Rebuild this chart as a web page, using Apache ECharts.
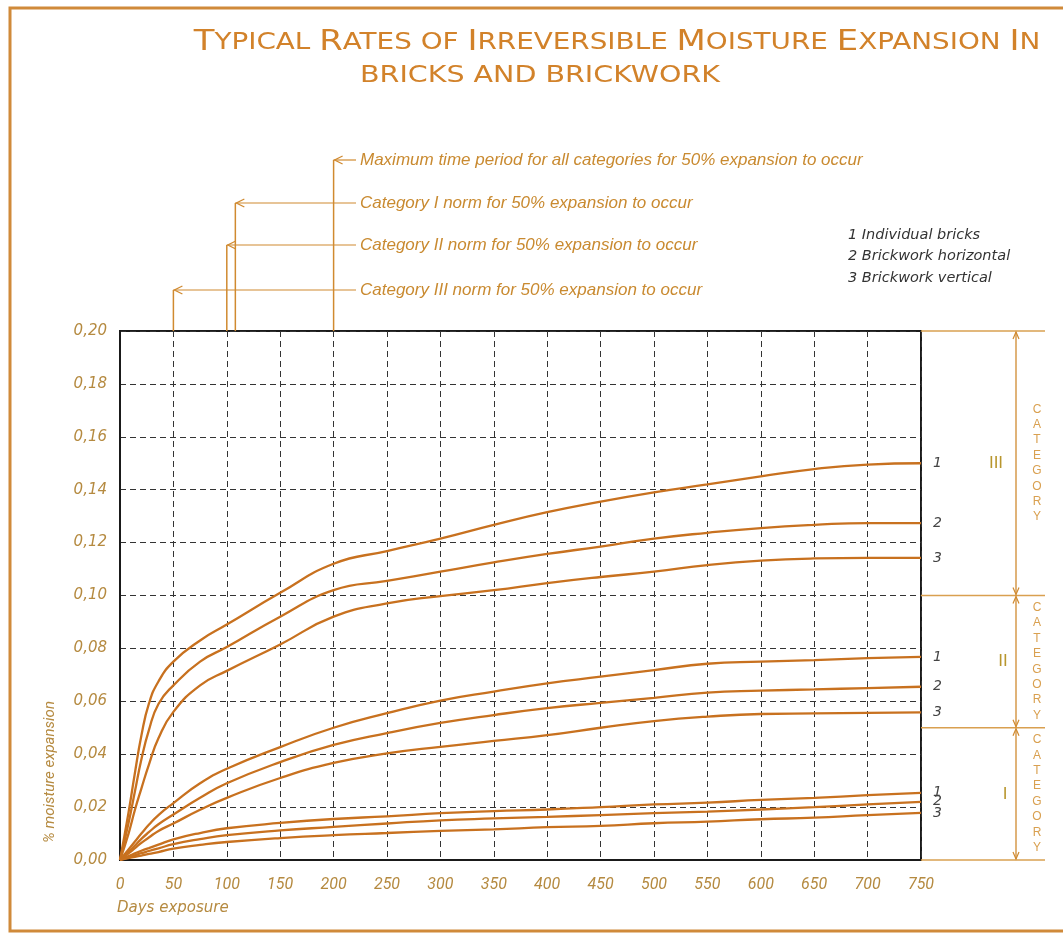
<!DOCTYPE html>
<html>
<head>
<meta charset="utf-8">
<script src="https://cdn.jsdelivr.net/npm/echarts@6/dist/echarts.min.js"></script>
<style>
html,body{margin:0;padding:0;background:#fff;}
#c{width:1063px;height:935px;}
</style>
</head>
<body>
<div id="c"></div>
<script>
// ---------------- DATA ----------------
const days = [0, 8, 14, 20, 27, 36, 50, 75, 100, 150, 200, 250, 300, 350, 400, 450, 500, 550, 600, 650, 700, 750];

const cat3_1 = [0, 0.018, 0.033, 0.047, 0.059, 0.0675, 0.075, 0.083, 0.089, 0.101, 0.112, 0.1168, 0.1215, 0.1267, 0.1315, 0.1355, 0.139, 0.142, 0.145, 0.1478, 0.1495, 0.150];
const cat3_2 = [0, 0.014, 0.026, 0.038, 0.049, 0.059, 0.066, 0.075, 0.0805, 0.092, 0.102, 0.1055, 0.109, 0.1125, 0.1157, 0.1185, 0.1215, 0.1237, 0.1255, 0.1267, 0.1274, 0.1274];
const cat3_3 = [0, 0.010, 0.019, 0.027, 0.036, 0.046, 0.056, 0.066, 0.0715, 0.0815, 0.092, 0.097, 0.0998, 0.102, 0.1047, 0.107, 0.109, 0.1115, 0.1132, 0.114, 0.1142, 0.1142];

const cat2_1 = [0, 0.004, 0.007, 0.010, 0.0133, 0.017, 0.0215, 0.029, 0.0345, 0.0427, 0.050, 0.0555, 0.0603, 0.0637, 0.0668, 0.0693, 0.0718, 0.0742, 0.075, 0.0756, 0.0763, 0.0768];
const cat2_2 = [0, 0.003, 0.0055, 0.008, 0.0105, 0.0135, 0.0172, 0.0235, 0.029, 0.037, 0.0435, 0.048, 0.0518, 0.0548, 0.0574, 0.0594, 0.0613, 0.0633, 0.064, 0.0645, 0.065, 0.0655];
const cat2_3 = [0, 0.0025, 0.0045, 0.0065, 0.0085, 0.011, 0.0138, 0.019, 0.0235, 0.031, 0.0367, 0.0403, 0.0428, 0.045, 0.0472, 0.050, 0.0525, 0.0542, 0.0552, 0.0554, 0.0556, 0.0558];

const cat1_1 = [0, 0.0015, 0.0025, 0.0035, 0.0045, 0.0058, 0.0078, 0.0102, 0.012, 0.014, 0.0155, 0.0165, 0.0177, 0.0185, 0.0191, 0.020, 0.021, 0.0217, 0.0227, 0.0235, 0.0245, 0.0254];
const cat1_2 = [0, 0.001, 0.0018, 0.0026, 0.0034, 0.0044, 0.006, 0.0079, 0.0094, 0.0112, 0.0125, 0.0138, 0.015, 0.0157, 0.0163, 0.017, 0.0177, 0.0183, 0.0191, 0.020, 0.021, 0.022];
const cat1_3 = [0, 0.0007, 0.0012, 0.0017, 0.0023, 0.003, 0.0043, 0.0057, 0.0068, 0.0083, 0.0094, 0.0102, 0.011, 0.0116, 0.0124, 0.0129, 0.0139, 0.0145, 0.0154, 0.016, 0.017, 0.0178];

const seriesValues = [cat3_1, cat3_2, cat3_3, cat2_1, cat2_2, cat2_3, cat1_1, cat1_2, cat1_3];
const seriesLabels = ['1', '2', '3', '1', '2', '3', '1', '2', '3'];

const categoryBounds = [0, 0.05, 0.10, 0.20];      // I: 0-0.05, II: 0.05-0.10, III: 0.10-0.20
const categoryNames = ['I', 'II', 'III'];

const normDays = [200, 108, 100, 50];
const normTexts = [
  'Maximum time period for all categories for 50% expansion to occur',
  'Category I norm for 50% expansion to occur',
  'Category II norm for 50% expansion to occur',
  'Category III norm for 50% expansion to occur'
];
const legendTexts = ['1 Individual bricks', '2 Brickwork horizontal', '3 Brickwork vertical'];

const titleLines = ['TYPICAL RATES OF IRREVERSIBLE MOISTURE EXPANSION IN', 'BRICKS AND BRICKWORK'];

// ---------------- CHART ----------------
const LINE = '#c8711f';
const TAN = '#b58a40';
const ORANGE = '#d08a30';
const chart = echarts.init(document.getElementById('c'));

const series = seriesValues.map((vals, i) => ({
  type: 'line',
  data: days.map((d, j) => [d, vals[j]]),
  smooth: 0.5,
  showSymbol: false,
  silent: true,
  lineStyle: { color: LINE, width: 2.3 },
  endLabel: {
    show: true,
    formatter: seriesLabels[i],
    color: '#444',
    fontStyle: 'italic',
    fontFamily: 'DejaVu Sans',
    fontSize: 14,
    distance: 12
  },
  z: 3
}));

chart.setOption({
  backgroundColor: '#fff',
  animation: false,
  grid: { left: 120, top: 331, width: 801, height: 529, show: true, borderColor: '#1a1a1a', borderWidth: 2, backgroundColor: 'transparent' },
  xAxis: {
    type: 'value', min: 0, max: 750, interval: 50,
    axisLine: { show: true, lineStyle: { color: '#1a1a1a', width: 2 } },
    axisTick: { show: false },
    axisLabel: { color: TAN, fontStyle: 'italic', fontFamily: 'Roboto', fontSize: 16, margin: 17 },
    splitLine: { show: true, lineStyle: { type: [6, 4], color: '#333', width: 1 } }
  },
  yAxis: {
    type: 'value', min: 0, max: 0.2, interval: 0.02,
    axisLine: { show: true, lineStyle: { color: '#1a1a1a', width: 2 } },
    axisTick: { show: false },
    axisLabel: { color: TAN, fontStyle: 'italic', fontFamily: 'DejaVu Sans', fontSize: 15, margin: 13,
      formatter: v => v.toFixed(2).replace('.', ',') },
    splitLine: { show: true, lineStyle: { type: [6, 4], color: '#333', width: 1 } }
  },
  series: series
});

function px(x, y) { return chart.convertToPixel({ gridIndex: 0 }, [x, y]); }

const g = [];
// frame
g.push({ type: 'rect', shape: { x: 10, y: 8, width: 1070, height: 923 }, style: { fill: 'none', stroke: '#d08a3a', lineWidth: 3 }, z: 1 });

// title (small caps)
const bigWords = ['TYPICAL', 'RATES', 'IRREVERSIBLE', 'MOISTURE', 'EXPANSION', 'IN'];
function smallCaps(line) {
  return line.split(' ').map(w => bigWords.indexOf(w) >= 0
    ? '{b|' + w[0] + '}' + (w.length > 1 ? '{s|' + w.slice(1) + '}' : '')
    : '{s|' + w + '}').join('{s| }');
}
const titleRich = {
  b: { fontSize: 28, fontFamily: 'DejaVu Sans', fill: '#d2822a' },
  s: { fontSize: 23, fontFamily: 'DejaVu Sans', fill: '#d2822a' }
};
g.push({ type: 'text', x: 617, y: 57, scaleX: 1.21, style: { text: smallCaps(titleLines[0]), rich: titleRich, align: 'center', verticalAlign: 'bottom' }, z: 5 });
g.push({ type: 'text', x: 540, y: 88, scaleX: 1.24, style: { text: smallCaps(titleLines[1]), rich: titleRich, align: 'center', verticalAlign: 'bottom' }, z: 5 });

// annotations
const plotTop = px(0, 0.2)[1];
const annoY = [160, 203, 245, 290];
const textX = 360;
normDays.forEach((d, i) => {
  const x = px(d, 0.2)[0];
  const y = annoY[i];
  g.push({ type: 'line', shape: { x1: x, y1: plotTop, x2: x, y2: y }, style: { stroke: ORANGE, lineWidth: 1.5 }, z: 4 });
  g.push({ type: 'line', shape: { x1: x, y1: y, x2: textX - 4, y2: y }, style: { stroke: ORANGE, lineWidth: 1.2 }, z: 4 });
  g.push({ type: 'polyline', shape: { points: [[x + 9, y - 4], [x + 1, y], [x + 9, y + 4]] }, style: { stroke: ORANGE, lineWidth: 1.3, fill: 'none' }, z: 4 });
  g.push({ type: 'text', x: textX, y: y, style: { text: normTexts[i], fill: '#c98a30', font: 'italic 17px "Liberation Sans"', verticalAlign: 'middle' }, z: 5 });
});

// legend
legendTexts.forEach((t, i) => {
  g.push({ type: 'text', x: 848, y: 235 + i * 21.5, style: { text: t, fill: '#333', font: 'italic 14.5px "DejaVu Sans"', verticalAlign: 'middle' }, z: 5 });
});

// right-side categories
const rightX = px(750, 0)[0];
categoryBounds.forEach(v => {
  const y = px(0, v)[1];
  g.push({ type: 'line', shape: { x1: rightX, y1: y, x2: 1045, y2: y }, style: { stroke: '#d9a050', lineWidth: 1.3 }, z: 4 });
});
const arrowX = 1016;
const romanX = [1005, 1003, 996];
for (let i = 0; i < categoryNames.length; i++) {
  const y0 = px(0, categoryBounds[i])[1];
  const y1 = px(0, categoryBounds[i + 1])[1];
  g.push({ type: 'line', shape: { x1: arrowX, y1: y1 + 1, x2: arrowX, y2: y0 - 1 }, style: { stroke: ORANGE, lineWidth: 1.3 }, z: 4 });
  g.push({ type: 'polyline', shape: { points: [[arrowX - 3, y1 + 8], [arrowX, y1 + 1], [arrowX + 3, y1 + 8]] }, style: { stroke: ORANGE, lineWidth: 1.2, fill: 'none' }, z: 4 });
  g.push({ type: 'polyline', shape: { points: [[arrowX - 3, y0 - 8], [arrowX, y0 - 1], [arrowX + 3, y0 - 8]] }, style: { stroke: ORANGE, lineWidth: 1.2, fill: 'none' }, z: 4 });
  const yc = (y0 + y1) / 2;
  g.push({ type: 'text', x: 1037, y: yc, style: { text: 'CATEGORY'.split('').join('\n'), fill: '#d9a050', font: '12px "Liberation Sans"', lineHeight: 15.4, align: 'center', verticalAlign: 'middle' }, z: 5 });
  g.push({ type: 'text', x: romanX[i], y: yc, style: { text: categoryNames[i], fill: '#b8962e', font: '17px "Liberation Sans"', align: 'center', verticalAlign: 'middle' }, z: 5 });
}

// axis titles
g.push({ type: 'text', x: 117, y: 908, style: { text: 'Days exposure', fill: TAN, font: 'italic 15px "DejaVu Sans"', verticalAlign: 'middle' }, z: 5 });
g.push({ type: 'text', x: 50, y: 772, rotation: Math.PI / 2, style: { text: '% moisture expansion', fill: TAN, font: 'italic 15px Roboto', align: 'center', verticalAlign: 'middle' }, z: 5 });

chart.setOption({ graphic: { elements: g } });
</script>
</body>
</html>
